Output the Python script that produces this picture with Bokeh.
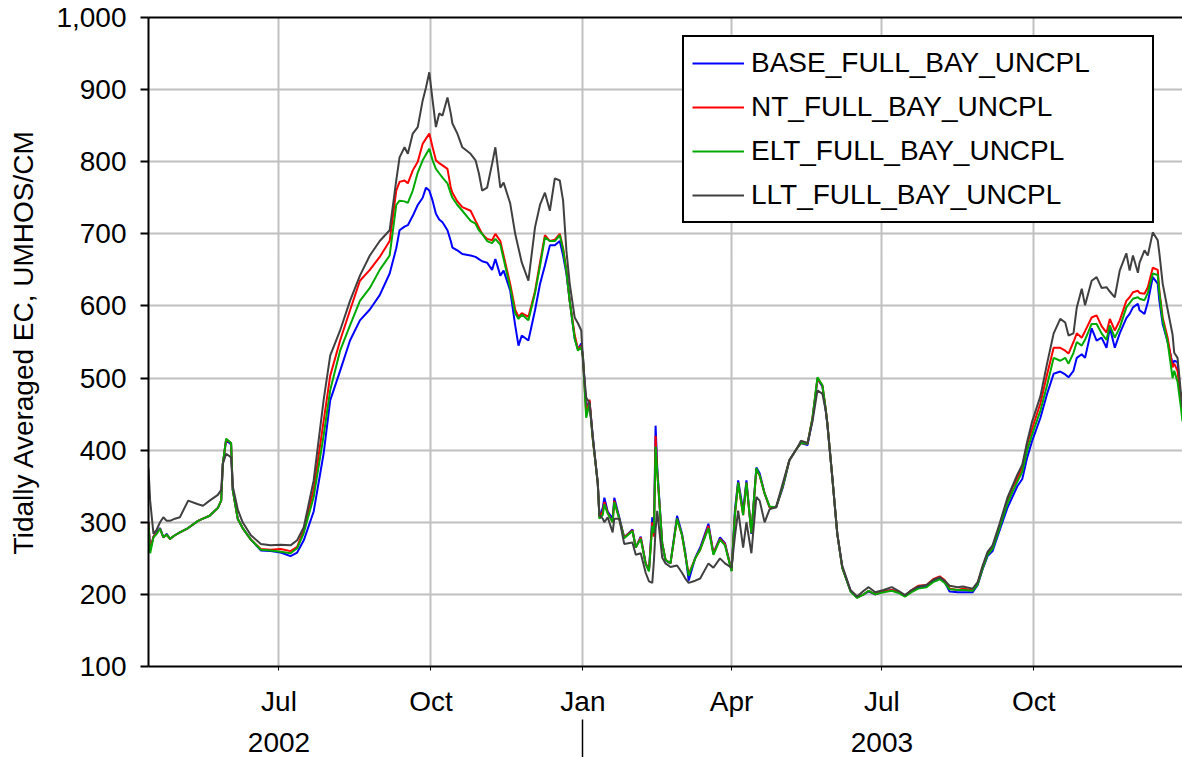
import pandas as pd
from bokeh.plotting import figure
from bokeh.models import (ColumnDataSource, Range1d, FixedTicker, CustomJSTickFormatter,
                          NumeralTickFormatter, SingleIntervalTicker, Legend, LegendItem,
                          LinearAxis, DatetimeAxis)
from bokeh.embed import file_html
from bokeh.resources import INLINE

# ---------------- data ----------------
dates = [
    "2002-04-13", "2002-04-14", "2002-04-16", "2002-04-18", "2002-04-20", "2002-04-22", "2002-04-24", "2002-04-26", "2002-04-29",
    "2002-05-02", "2002-05-07", "2002-05-13", "2002-05-16", "2002-05-20", "2002-05-25", "2002-05-27", "2002-05-28", "2002-05-30",
    "2002-06-02", "2002-06-03", "2002-06-06", "2002-06-09", "2002-06-14", "2002-06-20", "2002-06-26",
    "2002-07-02", "2002-07-08", "2002-07-12", "2002-07-16", "2002-07-22", "2002-07-28",
    "2002-08-01", "2002-08-07", "2002-08-13", "2002-08-19", "2002-08-25", "2002-08-31",
    "2002-09-06", "2002-09-10", "2002-09-12", "2002-09-15", "2002-09-17", "2002-09-20", "2002-09-23", "2002-09-26", "2002-09-28", "2002-09-30",
    "2002-10-02", "2002-10-04", "2002-10-06", "2002-10-08", "2002-10-11", "2002-10-13", "2002-10-14", "2002-10-17", "2002-10-20", "2002-10-25", "2002-10-28", "2002-10-30",
    "2002-11-01", "2002-11-04", "2002-11-07", "2002-11-09", "2002-11-12", "2002-11-14", "2002-11-18", "2002-11-21", "2002-11-23", "2002-11-25", "2002-11-29",
    "2002-12-03", "2002-12-06", "2002-12-09", "2002-12-12", "2002-12-15", "2002-12-18", "2002-12-20", "2002-12-22", "2002-12-24", "2002-12-27", "2002-12-29", "2002-12-31",
    "2003-01-01", "2003-01-03", "2003-01-05", "2003-01-07", "2003-01-10", "2003-01-11", "2003-01-13", "2003-01-14", "2003-01-16", "2003-01-19", "2003-01-20", "2003-01-23", "2003-01-26", "2003-01-31",
    "2003-02-02", "2003-02-05", "2003-02-08", "2003-02-10", "2003-02-12", "2003-02-13", "2003-02-14", "2003-02-15", "2003-02-18", "2003-02-20", "2003-02-23", "2003-02-27",
    "2003-03-02", "2003-03-04", "2003-03-06", "2003-03-10", "2003-03-13", "2003-03-18", "2003-03-21", "2003-03-25", "2003-03-28",
    "2003-04-01", "2003-04-03", "2003-04-05", "2003-04-08", "2003-04-10", "2003-04-13", "2003-04-16", "2003-04-18", "2003-04-21", "2003-04-24", "2003-04-28",
    "2003-05-02", "2003-05-06", "2003-05-11", "2003-05-13", "2003-05-17", "2003-05-20", "2003-05-23", "2003-05-26", "2003-05-28", "2003-05-29",
    "2003-06-01", "2003-06-04", "2003-06-07", "2003-06-12", "2003-06-16", "2003-06-20", "2003-06-23", "2003-06-27",
    "2003-07-02", "2003-07-07", "2003-07-11", "2003-07-15", "2003-07-19", "2003-07-23", "2003-07-28",
    "2003-08-01", "2003-08-05", "2003-08-08", "2003-08-11", "2003-08-16", "2003-08-19", "2003-08-25", "2003-08-28", "2003-08-31",
    "2003-09-03", "2003-09-06", "2003-09-10", "2003-09-15", "2003-09-18", "2003-09-21", "2003-09-24", "2003-09-27", "2003-09-30",
    "2003-10-05", "2003-10-09", "2003-10-13", "2003-10-17", "2003-10-20", "2003-10-22", "2003-10-25", "2003-10-27", "2003-10-30",
    "2003-11-01", "2003-11-05", "2003-11-08", "2003-11-11", "2003-11-14", "2003-11-16", "2003-11-19", "2003-11-22", "2003-11-26", "2003-11-28", "2003-11-30",
    "2003-12-03", "2003-12-04", "2003-12-07", "2003-12-09", "2003-12-12", "2003-12-15", "2003-12-16", "2003-12-18", "2003-12-21", "2003-12-24", "2003-12-25", "2003-12-27", "2003-12-29", "2003-12-30",
]

base = [
    300, 262, 280, 286, 292, 279, 284, 277, 282,
    286, 292, 302, 305, 309, 320, 330, 381, 414,
    408, 345, 305, 292, 276, 261, 260,
    258, 253, 258, 275, 315, 395,
    469, 510, 552, 580, 595, 615,
    645, 680, 705, 710, 712, 725, 740, 750, 764, 760,
    746, 728, 720, 716, 705, 690, 681, 677, 672, 670, 668, 665,
    662, 660, 650, 665, 642, 649, 621, 573, 545, 559, 552,
    594, 630, 656, 684, 684, 690, 670, 645, 607, 555, 540, 548,
    530, 460, 468, 418, 354, 307, 320, 334, 315, 305, 334, 307, 279, 290,
    265, 280, 243, 233, 307, 289, 434, 376, 271, 247, 243, 309,
    284, 258, 219, 251, 265, 298, 257, 279, 271,
    233, 316, 358, 316, 358, 284, 376, 368, 340, 321, 321,
    348, 386, 404, 410, 407, 443, 499, 488, 455, 435,
    362, 284, 237, 205, 196, 200, 204, 200,
    204, 206, 203, 198, 205, 210, 212,
    219, 223, 217, 204, 203, 203, 203, 213, 235,
    253, 260, 287, 320, 335, 350, 360, 390, 413,
    445, 478, 506, 509, 505, 501, 510, 528, 533,
    528, 569, 552, 556, 542, 570, 542, 562, 583, 589, 598,
    603, 594, 589, 605, 640, 631, 607, 575, 550, 520, 524, 522, 469, 451,
]

nt = [
    300, 262, 280, 285, 291, 279, 283, 277, 282,
    286, 292, 302, 305, 309, 320, 330, 381, 415,
    410, 345, 305, 292, 276, 263, 262,
    263, 260, 266, 290, 345, 440,
    503, 552, 594, 635, 650, 668,
    690, 760, 772, 774, 770, 788, 800, 825, 832, 839,
    820, 802, 798, 795, 790, 764, 757, 745, 737, 732, 718, 709,
    700, 693, 691, 700, 690, 670, 630, 595, 585, 590, 585,
    620, 660, 698, 690, 692, 700, 680, 650, 607, 560, 540, 545,
    530, 450, 470, 415, 354, 307, 315, 328, 313, 300, 330, 305, 279, 289,
    265, 279, 243, 233, 300, 280, 420, 370, 271, 248, 243, 305,
    282, 255, 228, 250, 262, 295, 257, 277, 270,
    233, 310, 355, 310, 355, 285, 373, 365, 340, 321, 321,
    350, 386, 404, 410, 409, 445, 499, 490, 457, 437,
    362, 284, 237, 205, 196, 200, 205, 200,
    204, 206, 203, 198, 206, 212, 213,
    221, 225, 220, 208, 206, 208, 206, 215, 237,
    257, 265, 293, 330, 348, 361, 376, 409, 430,
    465, 505, 542, 542, 538, 534, 550, 562, 556,
    565, 584, 587, 572, 563, 582, 566, 580, 607, 612, 619,
    621, 618, 617, 626, 653, 650, 621, 584, 556, 515, 520, 510, 470, 450,
]

elt = [
    298, 257, 279, 284, 291, 279, 283, 277, 282,
    286, 292, 302, 305, 309, 320, 330, 381, 416,
    410, 345, 305, 292, 276, 262, 261,
    259, 257, 264, 285, 335, 420,
    483, 538, 573, 607, 625, 650,
    670, 740, 746, 745, 743, 760, 785, 802, 810, 818,
    802, 790, 784, 778, 770, 756, 750, 740, 732, 718, 714, 705,
    700, 690, 687, 693, 685, 665, 625, 590, 582, 588, 580,
    618, 655, 695, 690, 690, 698, 678, 648, 607, 555, 538, 543,
    530, 445, 465, 415, 354, 305, 310, 325, 312, 300, 328, 305, 278, 288,
    265, 277, 242, 232, 295, 285, 405, 370, 271, 248, 243, 305,
    282, 255, 226, 250, 262, 292, 255, 276, 268,
    232, 310, 355, 310, 355, 285, 375, 365, 340, 322, 321,
    350, 386, 404, 410, 409, 445, 501, 490, 457, 437,
    362, 284, 237, 204, 195, 200, 205, 200,
    203, 205, 202, 197, 203, 208, 210,
    217, 221, 216, 207, 206, 206, 205, 214, 236,
    255, 263, 290, 326, 342, 356, 370, 400, 422,
    455, 490, 528, 524, 528, 520, 535, 550, 545,
    553, 575, 575, 562, 553, 573, 556, 570, 598, 604, 610,
    612, 610, 608, 618, 645, 643, 618, 580, 550, 500, 510, 495, 460, 440,
]

llt = [
    375, 330, 284, 290, 300, 307, 302, 302, 305,
    307, 330, 325, 323, 330, 338, 345, 381, 395,
    390, 350, 318, 300, 282, 270, 268,
    269, 268, 275, 293, 358, 469,
    531, 566, 607, 642, 670, 690,
    705, 774, 806, 820, 811, 839, 848, 885, 903, 924,
    885, 848, 867, 864, 889, 867, 853, 839, 820, 811, 802, 784,
    760, 764, 797, 820, 764, 771, 742, 700, 680, 660, 635,
    709, 740, 757, 732, 777, 774, 746, 677, 631, 584, 576, 566,
    524, 473, 465, 418, 354, 310, 305, 300, 307, 286, 305, 305, 270, 272,
    255, 257, 230, 218, 216, 247, 290, 316, 251, 243, 238, 240,
    230, 222, 216, 219, 222, 243, 237, 250, 243,
    237, 280, 316, 265, 300, 257, 335, 330, 300, 318, 321,
    354, 386, 404, 413, 410, 440, 483, 478, 455, 437,
    362, 284, 240, 206, 197, 205, 210, 203,
    206, 210, 205, 199, 206, 211, 213,
    220, 224, 219, 212, 210, 211, 208, 217, 240,
    259, 268, 296, 334, 350, 366, 380, 412, 440,
    475, 520, 562, 582, 577, 559, 562, 598, 624,
    601, 635, 640, 625, 626, 620, 612, 649, 673, 649, 670,
    646, 660, 677, 670, 702, 691, 673, 631, 595, 560, 535, 528, 480, 459,
]

series_names = ["BASE_FULL_BAY_UNCPL", "NT_FULL_BAY_UNCPL", "ELT_FULL_BAY_UNCPL", "LLT_FULL_BAY_UNCPL"]
series_colors = ["#0000FF", "#FF0000", "#00AA00", "#404040"]

month_ticks = ["2002-07-01", "2002-10-01", "2003-01-01", "2003-04-01", "2003-07-01", "2003-10-01"]
year_label_dates = ["2002-07-01", "2003-07-01"]   # shown as 2002, 2003
year_divider = "2003-01-01"
x_start, x_end = "2002-04-13", "2003-12-30"
y_start, y_end = 100, 1000
y_label = "Tidally Averaged EC, UMHOS/CM"

# ---------------- plot ----------------
def ms(s):
    return pd.Timestamp(s).value / 1e6

FONT = "Liberation Sans"
FS = "28px"

src = ColumnDataSource(dict(date=pd.to_datetime(dates), base=base, nt=nt, elt=elt, llt=llt))

p = figure(width=1182, height=757, x_axis_type="datetime",
           x_range=Range1d(pd.Timestamp(x_start), pd.Timestamp(x_end)),
           y_range=Range1d(y_start, y_end),
           output_backend="svg", toolbar_location=None,
           min_border_left=148, min_border_right=0, min_border_top=17, min_border_bottom=91)
p.outline_line_color = None
p.background_fill_color = "white"
p.border_fill_color = "white"

renderers = []
for col, color in zip(["base", "nt", "elt", "llt"], series_colors):
    r = p.line("date", col, source=src, line_color=color, line_width=2)
    renderers.append(r)

# x axis (months)
xt = FixedTicker(ticks=[ms(d) for d in month_ticks], minor_ticks=[])
p.xaxis.ticker = xt
p.xgrid.ticker = xt
p.xaxis.formatter = CustomJSTickFormatter(code="""
const m = ['Jan','Feb','Mar','Apr','May','Jun','Jul','Aug','Sep','Oct','Nov','Dec'];
return m[new Date(tick).getUTCMonth()];
""")
p.xaxis.axis_line_width = 2
p.xaxis.axis_line_color = "black"
p.xaxis.major_tick_out = 4
p.xaxis.major_tick_in = 0
p.xaxis.minor_tick_out = 0
p.xaxis.minor_tick_in = 0
p.xaxis.major_tick_line_color = "black"
p.xaxis.major_label_text_font = FONT
p.xaxis.major_label_text_font_size = FS
p.xaxis.major_label_text_color = "black"
p.xaxis.major_label_standoff = 15

# second x axis: years and year divider
yt = FixedTicker(ticks=[ms(d) for d in year_label_dates], minor_ticks=[ms(year_divider)])
year_axis = DatetimeAxis(ticker=yt,
                         formatter=CustomJSTickFormatter(code="return String(new Date(tick).getUTCFullYear());"),
                         axis_line_color=None, major_tick_line_color=None,
                         major_tick_out=0, major_tick_in=0,
                         minor_tick_out=44, minor_tick_in=0,
                         minor_tick_line_color="black", minor_tick_line_width=1.5,
                         major_label_text_font=FONT, major_label_text_font_size=FS,
                         major_label_text_color="black", major_label_standoff=-31)
p.add_layout(year_axis, "below")

# y axis
p.yaxis.ticker = SingleIntervalTicker(interval=100, num_minor_ticks=0)
p.ygrid.ticker = SingleIntervalTicker(interval=100, num_minor_ticks=0)
p.yaxis.formatter = NumeralTickFormatter(format="0,0")
p.yaxis.axis_line_width = 2
p.yaxis.axis_line_color = "black"
p.yaxis.major_tick_out = 8
p.yaxis.major_tick_in = 0
p.yaxis.major_tick_line_width = 2
p.yaxis.minor_tick_out = 0
p.yaxis.minor_tick_in = 0
p.yaxis.major_label_text_font = FONT
p.yaxis.major_label_text_font_size = FS
p.yaxis.major_label_text_color = "black"
p.yaxis.major_label_standoff = 14
p.yaxis.axis_label = y_label
p.yaxis.axis_label_text_font = FONT
p.yaxis.axis_label_text_font_size = FS
p.yaxis.axis_label_text_font_style = "normal"
p.yaxis.axis_label_text_color = "black"
p.yaxis.axis_label_standoff = 14

for g in (p.xgrid, p.ygrid):
    g.grid_line_color = "#C0C0C0"
    g.grid_line_width = 2

# top border line
top = LinearAxis(ticker=FixedTicker(ticks=[]), major_label_text_font_size="0px",
                 major_tick_out=0, major_tick_in=0, minor_tick_out=0, minor_tick_in=0,
                 axis_line_width=2, axis_line_color="black")
p.add_layout(top, "above")

legend = Legend(items=[LegendItem(label=n, renderers=[r]) for n, r in zip(series_names, renderers)],
                location=(534, 443), orientation="vertical",
                border_line_color="black", border_line_width=2, border_line_alpha=1.0,
                background_fill_color="white", background_fill_alpha=1.0,
                label_text_font=FONT, label_text_font_size=FS, label_text_color="black",
                glyph_width=52, glyph_height=36, label_height=36, label_width=393,
                label_standoff=7, spacing=8, padding=8, margin=0)
p.add_layout(legend)

open("out.html", "w").write(file_html(p, INLINE))
